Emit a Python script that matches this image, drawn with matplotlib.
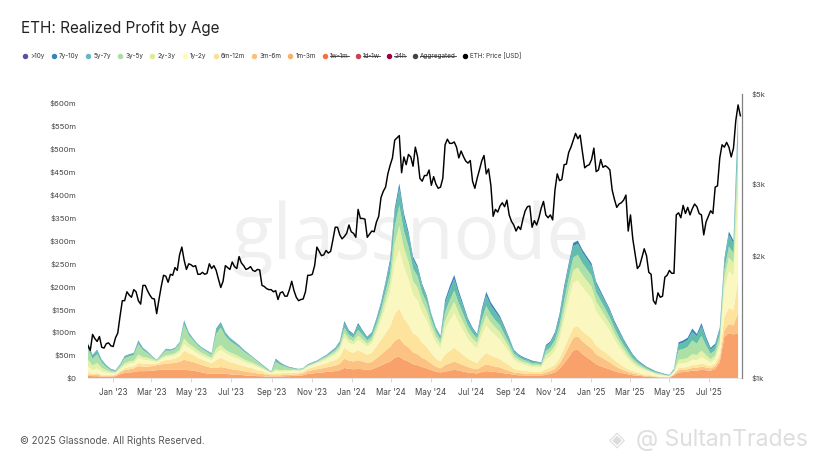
import numpy as np
import pandas as pd
import matplotlib
matplotlib.use('Agg')
import matplotlib.pyplot as plt
import matplotlib.dates as mdates
from matplotlib.lines import Line2D
from matplotlib.ticker import FixedLocator, NullLocator

plt.rcParams['font.family'] = ['Inter', 'DejaVu Sans']

# ---------------- data ----------------
start_date = '2022-11-24'

# ETH price [USD], every 3.5 days from start_date
eth_price = [1200, 1170, 1280, 1250, 1230, 1265, 1190, 1185, 1215, 1220,
             1200, 1195, 1255, 1290, 1420, 1550, 1550, 1630, 1600, 1580,
             1650, 1630, 1550, 1520, 1690, 1690, 1640, 1600, 1570, 1565,
             1440, 1560, 1680, 1790, 1780, 1720, 1800, 1790, 1870, 1840,
             2010, 2100, 1950, 1850, 1910, 1900, 1880, 1890, 1800, 1800,
             1820, 1800, 1810, 1910, 1860, 1890, 1840, 1750, 1670, 1730,
             1890, 1870, 1850, 1930, 1880, 1860, 1990, 1920, 1890, 1850,
             1860, 1880, 1840, 1830, 1850, 1845, 1690, 1680, 1660, 1650,
             1650, 1630, 1640, 1560, 1620, 1630, 1590, 1590, 1650, 1730,
             1640, 1580, 1550, 1560, 1565, 1630, 1790, 1790, 1800, 1890,
             2100, 2050, 2000, 2010, 2060, 2030, 2050, 2190, 2350, 2350,
             2250, 2200, 2230, 2270, 2380, 2290, 2270, 2220, 2600, 2470,
             2470, 2460, 2220, 2260, 2300, 2290, 2420, 2500, 2780, 2880,
             2950, 3180, 3340, 3480, 3850, 3900, 3950, 3200, 3500, 3350,
             3550, 3500, 3320, 3700, 3500, 3100, 3050, 3150, 3150, 3250,
             2980, 3130, 3000, 2930, 2950, 3100, 3750, 3870, 3780, 3780,
             3810, 3700, 3480, 3620, 3510, 3420, 3380, 3430, 3050, 2930,
             3100, 3250, 3420, 3530, 3180, 3270, 2980, 2500, 2600, 2560,
             2650, 2700, 2640, 2740, 2520, 2430, 2380, 2300, 2360, 2320,
             2460, 2580, 2640, 2650, 2350, 2440, 2380, 2480, 2620, 2720,
             2520, 2480, 2520, 2450, 2900, 3180, 3060, 3080, 3350, 3360,
             3590, 3700, 3850, 4000, 3880, 3960, 3600, 3290, 3330, 3350,
             3450, 3680, 3220, 3250, 3450, 3300, 3330, 3300, 3250, 2900,
             2750, 2630, 2680, 2700, 2740, 2820, 2300, 2520, 2200, 2020,
             1860, 1890, 1980, 2080, 2000, 1820, 1800, 1550, 1520, 1620,
             1580, 1590, 1770, 1790, 1840, 1810, 1810, 2520, 2550, 2480,
             2660, 2540, 2630, 2520, 2610, 2680, 2640, 2540, 2520, 2250,
             2420, 2500, 2580, 2540, 2950, 2970, 3480, 3750, 3700, 3800,
             3700, 3500, 3680, 4300, 4700, 4420]

# realized profit by age band, $m, weekly from start_date
rp_1m_3m = [5, 4, 4, 3, 3, 3, 4, 8, 11, 12,
            13, 15, 15, 15, 16, 17, 18, 18, 18, 18,
            18, 18, 17, 16, 14, 12, 10, 9, 9, 10,
            9, 8, 7, 7, 6, 5, 5, 4, 4, 3,
            3, 3, 3, 4, 4, 5, 5, 6, 9, 10,
            11, 12, 13, 14, 15, 17, 22, 20, 19, 20,
            19, 18, 19, 23, 27, 32, 36, 44, 47, 40,
            36, 30, 28, 24, 21, 17, 14, 12, 14, 16,
            18, 16, 14, 12, 11, 10, 13, 15, 14, 13,
            12, 10, 9, 7, 6, 6, 5, 5, 5, 5,
            7, 9, 12, 20, 32, 45, 60, 62, 52, 45,
            38, 30, 26, 22, 19, 15, 12, 10, 8, 6,
            5, 4, 3, 2, 2, 1, 1, 1, 6, 12,
            13, 14, 16, 16, 18, 17, 16, 20, 35, 90,
            98, 95, 98]
rp_3m_6m = [3, 2, 3, 2, 2, 2, 2, 4, 6, 7,
            8, 11, 10, 10, 10, 11, 12, 13, 14, 15,
            17, 22, 20, 19, 17, 16, 15, 13, 13, 14,
            13, 12, 11, 10, 9, 8, 7, 6, 5, 4,
            3, 3, 3, 3, 3, 3, 3, 4, 6, 7,
            8, 9, 10, 11, 12, 14, 20, 18, 17, 19,
            17, 15, 16, 20, 24, 28, 32, 37, 40, 34,
            31, 26, 24, 20, 18, 14, 11, 9, 14, 16,
            18, 16, 14, 12, 10, 9, 12, 15, 13, 12,
            11, 9, 7, 5, 5, 4, 4, 4, 4, 4,
            5, 6, 8, 11, 17, 23, 28, 29, 28, 27,
            26, 22, 20, 18, 15, 12, 9, 7, 5, 4,
            3, 2, 2, 2, 1, 1, 1, 0.5, 2, 5,
            5, 5, 6, 6, 7, 6, 5, 6, 8, 15,
            20, 20, 44]
rp_6m_12m = [5, 3, 4, 2, 2, 2, 2, 3, 4, 5,
             5, 7, 6, 6, 5, 4, 6, 8, 8, 9,
             12, 20, 17, 15, 13, 12, 11, 10, 17, 20,
             17, 15, 14, 12, 11, 10, 9, 7, 6, 4,
             3, 4, 4, 4, 4, 4, 4, 4, 5, 6,
             7, 8, 9, 11, 12, 15, 24, 20, 19, 22,
             20, 18, 20, 26, 32, 38, 45, 58, 65, 56,
             50, 42, 39, 33, 29, 23, 18, 15, 23, 27,
             30, 26, 22, 18, 16, 14, 20, 25, 22, 20,
             18, 15, 12, 8, 7, 6, 6, 5, 5, 5,
             7, 8, 9, 12, 16, 19, 22, 22, 22, 22,
             22, 19, 17, 16, 14, 12, 10, 8, 6, 5,
             4, 3, 2, 2, 1, 1, 1, 0.5, 2, 5,
             5, 5, 6, 6, 7, 6, 5, 6, 10, 28,
             35, 33, 73]
rp_1y_2y = [12, 8, 10, 7, 5, 3, 2, 4, 6, 7,
            7, 11, 9, 8, 6, 3, 5, 7, 7, 8,
            9, 14, 12, 10, 9, 8, 8, 7, 15, 18,
            15, 14, 13, 12, 10, 9, 8, 7, 5, 4,
            2, 5, 4, 4, 4, 4, 3, 3, 4, 5,
            6, 7, 8, 10, 12, 15, 22, 19, 18, 22,
            20, 18, 21, 30, 42, 58, 75, 112, 130, 112,
            100, 84, 78, 66, 58, 45, 35, 29, 55, 66,
            75, 63, 53, 43, 36, 32, 48, 60, 53, 48,
            43, 36, 28, 20, 16, 14, 12, 10, 10, 9,
            22, 24, 30, 42, 62, 82, 98, 100, 96, 92,
            88, 75, 69, 62, 55, 45, 37, 29, 22, 16,
            12, 10, 8, 6, 4, 3, 2, 1.5, 3, 9,
            9, 10, 12, 11, 14, 11, 8, 9, 17, 60,
            80, 75, 180]
rp_2y_3y = [15, 10, 12, 8, 5, 3, 2, 3, 5, 5,
            5, 7, 6, 5, 4, 2, 3, 4, 4, 4,
            5, 12, 9, 8, 7, 6, 5, 5, 10, 10,
            8, 7, 7, 6, 5, 5, 4, 4, 3, 2,
            1, 4, 3, 3, 2, 2, 2, 2, 2, 2,
            2, 3, 4, 4, 5, 6, 10, 8, 7, 10,
            8, 6, 7, 9, 12, 16, 20, 42, 50, 42,
            37, 30, 28, 23, 20, 15, 12, 10, 19, 22,
            25, 21, 18, 15, 13, 11, 18, 22, 19, 17,
            16, 13, 10, 7, 6, 5, 5, 4, 4, 4,
            9, 10, 12, 15, 20, 24, 27, 28, 27, 26,
            25, 21, 19, 17, 15, 13, 11, 9, 8, 6,
            5, 4, 3, 2, 2, 2, 1, 1, 2, 9,
            9, 10, 12, 11, 14, 10, 7, 8, 11, 25,
            30, 28, 72]
rp_3y_5y = [23, 15, 19, 12, 7, 4, 3, 5, 11, 11,
            12, 23, 15, 10, 5, 2, 6, 10, 8, 9,
            13, 30, 19, 14, 11, 9, 8, 7, 32, 38,
            30, 25, 22, 20, 17, 14, 11, 8, 5, 3,
            1, 16, 12, 7, 5, 2, 2, 2, 2, 2,
            2, 3, 3, 4, 5, 6, 12, 9, 8, 12,
            10, 7, 8, 10, 13, 17, 21, 38, 45, 37,
            33, 27, 25, 20, 18, 14, 11, 9, 19, 22,
            25, 21, 18, 14, 12, 10, 16, 20, 18, 16,
            15, 12, 10, 7, 6, 5, 5, 4, 4, 3,
            9, 10, 12, 16, 22, 25, 28, 28, 26, 25,
            24, 20, 18, 16, 14, 12, 10, 9, 8, 6,
            5, 4, 3, 2, 2, 2, 1, 1, 2, 21,
            22, 24, 30, 25, 32, 21, 12, 12, 13, 18,
            24, 22, 50]
rp_5y_7y = [10, 6, 8, 5, 3, 2, 1, 2, 4, 4,
            4, 6, 4, 3, 1, 1, 2, 3, 2, 2,
            3, 8, 5, 3, 2, 2, 2, 2, 10, 10,
            7, 6, 5, 4, 3, 2, 1, 1, 1, 1,
            1, 5, 4, 2, 1, 1, 1, 1, 1, 1,
            1, 1, 2, 3, 4, 5, 10, 7, 6, 11,
            8, 6, 7, 9, 11, 16, 24, 30, 37, 30,
            26, 20, 18, 15, 13, 10, 7, 6, 19, 23,
            25, 20, 16, 12, 9, 8, 17, 23, 19, 18,
            15, 13, 9, 6, 4, 4, 3, 4, 3, 3,
            10, 10, 13, 18, 23, 25, 25, 24, 23, 22,
            21, 18, 16, 15, 14, 12, 12, 10, 8, 7,
            4, 3, 3, 3, 2, 1, 1, 1, 2, 13,
            14, 15, 19, 16, 21, 14, 9, 10, 12, 18,
            25, 21, 52]
rp_7y_10y = [3, 2, 2, 1, 1, 1, 1, 1, 1, 1,
             1, 2, 1, 1, 1, 0, 0, 1, 1, 1,
             1, 2, 1, 1, 1, 1, 1, 1, 2, 2,
             1, 1, 1, 1, 1, 1, 1, 1, 1, 1,
             0, 2, 1, 1, 1, 1, 0, 0, 1, 1,
             1, 1, 1, 1, 1, 2, 4, 3, 2, 4,
             2, 2, 2, 3, 4, 5, 7, 9, 11, 9,
             7, 6, 5, 4, 3, 2, 2, 2, 7, 8,
             9, 7, 5, 4, 3, 2, 6, 8, 7, 6,
             5, 4, 3, 2, 2, 2, 2, 2, 1, 1,
             3, 3, 4, 6, 8, 7, 7, 7, 6, 6,
             6, 5, 5, 4, 4, 4, 4, 3, 3, 2,
             2, 2, 1, 1, 1, 1, 1, 0.5, 1, 4,
             5, 5, 7, 5, 7, 5, 4, 4, 4, 6,
             8, 6, 11]

band_names = ['1m-3m', '3m-6m', '6m-12m', '1y-2y', '2y-3y', '3y-5y', '5y-7y', '7y-10y']
band_values = [rp_1m_3m, rp_3m_6m, rp_6m_12m, rp_1y_2y, rp_2y_3y, rp_3y_5y, rp_5y_7y, rp_7y_10y]
band_colors = ['#f8a16b', '#fcc283', '#fde39b', '#fbf7c1', '#e3f1a8', '#ade0a6', '#63bdab', '#3784bb']

legend_items = [('>10y', '#5e4fa2', False), ('7y-10y', '#3288bd', False),
                ('5y-7y', '#5cbcc0', False), ('3y-5y', '#abdda4', False),
                ('2y-3y', '#d9ef8b', False), ('1y-2y', '#fffbb0', False),
                ('6m-12m', '#fee08b', False), ('3m-6m', '#fdc070', False),
                ('1m-3m', '#fdae61', False), ('1w-1m', '#f46d43', True),
                ('1d-1w', '#d53e4f', True), ('24h', '#9e0142', True),
                ('Aggregated', '#444444', True), ('ETH: Price [USD]', '#000000', False)]

left_ticks = [0, 50, 100, 150, 200, 250, 300, 350, 400, 450, 500, 550, 600]
left_labels = ['$0'] + ['$%dm' % v for v in left_ticks[1:]]
right_ticks = [1000, 2000, 3000, 5000]
right_labels = ['$1k', '$2k', '$3k', '$5k']

band_dates = pd.date_range(start_date, periods=len(rp_1m_3m), freq='7D')
price_dates = pd.date_range(start_date, periods=len(eth_price), freq='84h')

# ---------------- figure ----------------
W, H = 828, 466
fig = plt.figure(figsize=(W / 100, H / 100), dpi=100)
fig.patch.set_facecolor('white')

ax = fig.add_axes([88 / W, 88 / H, 654 / W, 284 / H])
ax.set_facecolor('none')

ax.text(0.494, 0.49, 'glassnode', transform=ax.transAxes, ha='center', va='center',
        fontsize=55, color='#f0f0f0', zorder=0, family=['Open Sans', 'DejaVu Sans'])

ax.stackplot(band_dates, *band_values, colors=band_colors, linewidth=0, zorder=2)
ax.set_ylim(0, 620)
ax.set_xlim(pd.Timestamp('2022-11-24'), pd.Timestamp('2025-08-20'))

ax.yaxis.set_major_locator(FixedLocator(left_ticks))
ax.set_yticklabels(left_labels)
ax.tick_params(axis='y', length=0, pad=8.5, labelsize=5.6, labelcolor='#444444')
ax.xaxis.set_major_locator(mdates.MonthLocator(bymonth=[1, 3, 5, 7, 9, 11]))
ax.xaxis.set_major_formatter(mdates.DateFormatter("%b '%y"))
ax.tick_params(axis='x', length=3, width=0.6, color='#d0d0d0', pad=4,
               labelsize=5.8, labelcolor='#444444')
for s in ['left', 'top', 'right']:
    ax.spines[s].set_visible(False)
ax.spines['bottom'].set_color('#e4e4e4')
ax.spines['bottom'].set_linewidth(0.6)

ax2 = ax.twinx()
ax2.set_yscale('log')
ax2.plot(price_dates, eth_price, color='black', linewidth=1.05, zorder=3)
ax2.set_ylim(1000, 5000)
ax2.yaxis.set_major_locator(FixedLocator(right_ticks))
ax2.yaxis.set_minor_locator(NullLocator())
ax2.set_yticklabels(right_labels)
ax2.tick_params(axis='y', length=0, pad=7, labelsize=5.6, labelcolor='#444444')
for s in ['left', 'top', 'bottom']:
    ax2.spines[s].set_visible(False)
ax2.spines['right'].set_color('#808080')
ax2.spines['right'].set_linewidth(0.9)

# title
fig.text(21 / W, 1 - 28 / H, 'ETH: Realized Profit by Age', fontsize=11,
         color='#222222', ha='left', va='center')

# legend
renderer = fig.canvas.get_renderer()
ly = 1 - 56 / H
x = 25
for name, col, strike in legend_items:
    fig.add_artist(Line2D([x / W], [ly], marker='o', markersize=2.9, color=col,
                          linestyle='none', transform=fig.transFigure))
    t = fig.text((x + 5) / W, ly, name, fontsize=4.6, color='#333333',
                 ha='left', va='center')
    bb = t.get_window_extent(renderer)
    if strike:
        ym = (bb.y0 + bb.y1) / 2 / H
        fig.add_artist(Line2D([bb.x0 / W, bb.x1 / W], [ym, ym], color='#333333',
                              linewidth=0.6, transform=fig.transFigure))
    x = bb.x1 + 9.3

# footer
fig.text(20 / W, 1 - 441 / H, '\u00a9 2025 Glassnode. All Rights Reserved.', fontsize=7,
         color='#555555', ha='left', va='center')
fig.text(617 / W, 1 - 440 / H, '\u25c8', fontsize=15, color='#dcdcdc', ha='center',
         va='center', family=['DejaVu Sans'])
fig.text(636 / W, 1 - 440 / H, '@ SultanTrades', fontsize=16.5, color='#dedede',
         ha='left', va='center')

fig.savefig('out.png', dpi=100, facecolor='white')
